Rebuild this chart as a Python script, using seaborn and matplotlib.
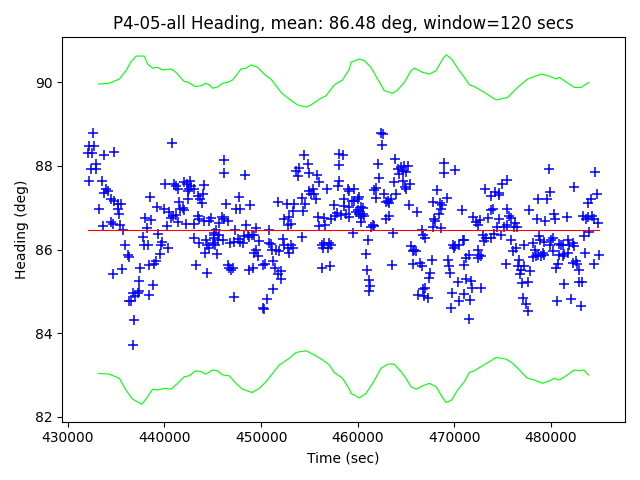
import numpy as np
import seaborn as sns
import matplotlib
matplotlib.use("Agg")
import matplotlib.pyplot as plt

# Heading samples (time in sec, heading in deg)
time_sec = [
    432570, 432230, 432740, 432050, 432500, 433780, 434810, 432400, 432920, 432920,
    432150, 433540, 433950, 433780, 434120, 434470, 434810, 435150, 435510, 435150,
    435330, 433190, 433600, 434470, 434640, 435400, 435670, 435950, 436190, 436290,
    434640, 435570, 437500, 437400, 436710, 437220, 437400, 436540, 436990, 436370,
    438360, 438850, 436880, 436780, 440060, 438540, 439190, 439990, 440430, 438020,
    438610, 438200, 439290, 437740, 437920, 438260, 439750, 439650, 440330, 439570,
    439130, 438950, 438440, 440300, 440740, 446200, 446130, 448370, 440950, 441360,
    441200, 441990, 442340, 442680, 442750, 442580, 443020, 442470, 444130, 443950,
    443430, 443710, 442400, 441540, 441880, 441640, 442060, 443850, 446370, 447750,
    447410, 447850, 448890, 440850, 441200, 440680, 441440, 442230, 443020, 443430,
    443610, 444820, 444570, 444060, 445920, 445680, 446540, 446130, 445340, 445160,
    448440, 447310, 443090, 443610, 444300, 444410, 444650, 444990, 445160, 445160,
    445500, 445240, 445680, 446020, 445440, 444200, 446820, 447230, 447570, 447850,
    448090, 448270, 448610, 449020, 448790, 443270, 444410, 446610, 446720, 446890,
    447060, 448790, 449130, 447160, 449230,
    454480, 458030, 454820, 453960, 453620, 453780, 454920, 455790, 455960, 458030,
    454920, 455170, 455340, 455510, 456790, 457920, 454240, 454580, 455690, 451710,
    452650, 453440, 453340, 454300, 457580, 452930, 452410, 453100, 452750, 455850,
    456550, 457240, 457690, 457820, 456650, 456030, 449480, 450860, 449300, 449820,
    450780, 451030, 451130, 451550, 452230, 452410, 452750, 452930, 453100, 453270,
    451890, 454240, 456310, 456550, 457070, 457240, 456890, 456440, 449480, 449640,
    450160, 450440, 451270, 451480, 452070, 452070, 451710, 456310, 457170, 451200,
    450620, 450160, 450340,
    462420, 462580, 462520, 458440, 458100, 462060, 463900, 464130, 464490, 464830,
    465170, 464650, 464310, 465000, 463720, 464650, 462170, 458960, 459140, 459650,
    461900, 461720, 461900, 465000, 465450, 464900, 462690, 463970, 458620, 459370,
    459650, 460170, 459990, 462930, 463100, 463280, 463450, 465350, 458620, 459140,
    460350, 460510, 459990, 459830, 466140, 458280, 458790, 459140, 460170, 460350,
    460510, 460690, 460350, 463280, 462930, 461550, 461380, 461720, 459480, 463620,
    466620, 466720, 461030, 465520, 465690, 465860, 466040, 460860, 463510, 465690,
    466480, 466620, 460930, 461130, 461310, 461210, 466280, 466720, 466830,
    468900, 468970, 470110, 468170, 469210, 467830, 468520, 468730, 468630, 468450,
    467930, 468040, 467760, 468630, 470760, 467000, 473210, 473800, 474250, 474660,
    474590, 474940, 475420, 473800, 474040, 473450, 474660, 475420, 471900, 472250,
    472410, 472660, 474380, 475180, 475420, 474840, 474140, 473800, 473280, 473000,
    473110, 469830, 470110, 470000, 470520, 470860, 471040, 471560, 471210, 471040,
    472410, 472590, 472770, 472410, 467650, 469310, 469490, 469590, 467490, 467420,
    467000, 467240, 470340, 471210, 471730, 471830, 472770, 469720, 471040, 470450,
    471630, 469660, 471560, 475350,
    479760, 484600, 482420, 479910, 478700, 479560, 484770, 484150, 483800, 477770,
    475700, 475870, 480280, 480460, 478520, 479420, 481630, 483280, 483800, 484210,
    484490, 483630, 484830, 476290, 476490, 476210, 483980, 483390, 475870, 478800,
    478900, 479250, 480010, 480180, 479940, 480870, 481050, 481210, 481730, 482250,
    482350, 481910, 477250, 478110, 478390, 476390, 476040, 478110, 478460, 478620,
    479140, 479320, 478980, 480180, 480870, 481210, 481390, 481730, 483560, 485010,
    476730, 476550, 477180, 476910, 476830, 477870, 480690, 480530, 482250, 482600,
    482700, 482940, 484420, 476970, 477590, 481390, 482940, 483180, 477070, 477420,
    477660, 480630, 482080, 483120,
]
heading_deg = [
    88.80, 88.48, 88.48, 88.30, 88.30, 88.26, 88.34, 87.94, 87.94, 88.04,
    87.63, 87.63, 87.44, 87.36, 87.40, 87.22, 87.16, 87.08, 87.08, 86.98,
    86.84, 86.98, 86.56, 86.65, 86.62, 86.58, 86.46, 86.10, 85.88, 85.82,
    85.42, 85.54, 85.57, 85.26, 84.96, 84.96, 85.00, 84.76, 84.88, 84.76,
    84.92, 85.16, 84.32, 83.71, 87.58, 87.26, 87.02, 86.96, 86.89, 86.76,
    86.70, 86.52, 86.38, 86.29, 86.10, 86.10, 86.17, 86.12, 86.04, 85.90,
    85.72, 85.66, 85.62, 86.56, 88.56, 88.14, 87.84, 87.78, 87.58, 87.46,
    87.52, 87.61, 87.56, 87.64, 87.52, 87.44, 87.46, 87.40, 87.54, 87.32,
    87.28, 87.20, 87.22, 87.13, 87.00, 86.96, 86.94, 87.12, 87.10, 87.26,
    86.98, 86.98, 87.06, 86.80, 86.82, 86.76, 86.65, 86.62, 86.62, 86.80,
    86.72, 86.76, 86.68, 86.68, 86.77, 86.64, 86.68, 86.74, 86.48, 86.36,
    86.60, 86.48, 86.28, 86.16, 86.22, 86.10, 86.04, 86.16, 86.28, 86.40,
    86.24, 86.10, 86.36, 86.24, 85.90, 85.93, 86.16, 86.17, 86.26, 86.17,
    86.16, 86.32, 86.36, 86.36, 86.30, 85.62, 85.44, 85.64, 85.57, 85.52,
    85.56, 85.52, 85.56, 84.86, 85.93,
    88.26, 88.28, 88.04, 87.96, 87.88, 87.76, 87.84, 87.78, 87.61, 87.64,
    87.40, 87.34, 87.44, 87.32, 87.44, 87.52, 87.24, 87.10, 87.20, 87.13,
    87.10, 87.10, 86.92, 86.92, 87.06, 86.78, 86.72, 86.62, 86.58, 86.78,
    86.76, 86.74, 86.80, 86.88, 86.60, 86.56, 86.52, 86.46, 86.36, 86.20,
    86.16, 86.14, 85.98, 85.98, 86.26, 86.10, 86.04, 85.93, 86.12, 86.05,
    85.96, 86.29, 86.10, 86.16, 86.16, 86.10, 86.04, 86.04, 85.98, 85.84,
    85.64, 85.66, 85.72, 85.57, 85.48, 85.30, 85.42, 85.57, 85.60, 85.06,
    84.82, 84.60, 84.58,
    88.80, 88.76, 88.50, 88.26, 88.02, 88.04, 88.16, 87.92, 87.97, 88.00,
    88.00, 87.88, 87.82, 87.85, 87.61, 87.64, 87.72, 87.44, 87.40, 87.44,
    87.48, 87.42, 87.24, 87.46, 87.56, 87.50, 87.34, 87.32, 87.20, 87.16,
    87.16, 87.26, 87.20, 87.14, 87.16, 87.12, 87.20, 87.06, 87.04, 87.02,
    87.02, 87.00, 86.94, 86.89, 86.89, 86.82, 86.84, 86.78, 86.84, 86.80,
    86.86, 86.80, 86.65, 86.80, 86.74, 86.58, 86.54, 86.56, 86.40, 86.40,
    86.46, 86.36, 86.24, 86.08, 85.96, 85.98, 85.96, 85.90, 85.64, 85.66,
    85.68, 85.60, 85.52, 85.28, 85.14, 85.02, 84.92, 85.06, 84.88,
    88.06, 87.84, 87.90, 87.42, 87.24, 87.13, 87.12, 87.06, 86.96, 86.84,
    86.72, 86.68, 86.54, 86.52, 86.94, 86.28, 87.46, 87.28, 87.37, 87.36,
    87.30, 87.56, 87.66, 86.94, 86.98, 86.76, 86.72, 86.96, 86.77, 86.65,
    86.58, 86.70, 86.54, 86.54, 86.58, 86.34, 86.38, 86.28, 86.28, 86.36,
    86.20, 86.10, 86.08, 86.04, 86.12, 86.22, 86.24, 85.88, 85.81, 85.62,
    86.00, 85.88, 85.84, 85.80, 85.76, 85.76, 85.60, 85.44, 85.45, 85.32,
    85.09, 84.84, 85.22, 85.30, 85.24, 85.08, 85.08, 84.97, 84.94, 84.78,
    84.80, 84.60, 84.34, 85.66,
    87.94, 87.85, 87.50, 87.37, 87.22, 87.20, 87.34, 87.22, 87.12, 86.94,
    86.80, 86.76, 86.84, 86.74, 86.74, 86.68, 86.78, 86.80, 86.78, 86.80,
    86.72, 86.72, 86.64, 86.64, 86.54, 86.54, 86.41, 86.32, 86.24, 86.32,
    86.24, 86.17, 86.24, 86.28, 86.12, 86.14, 86.10, 86.12, 86.22, 86.16,
    86.08, 86.12, 86.10, 86.16, 86.00, 86.04, 85.96, 85.82, 85.84, 85.88,
    85.92, 85.88, 85.84, 85.96, 85.88, 85.84, 85.90, 85.93, 85.92, 85.88,
    85.74, 85.60, 85.60, 85.52, 85.42, 85.48, 85.66, 85.56, 85.68, 85.72,
    85.66, 85.52, 85.66, 85.20, 85.22, 85.18, 85.22, 85.22, 84.84, 84.70,
    84.52, 84.78, 84.82, 84.66,
]
mean_heading = 86.48
window_secs = 120

# Rolling band (upper / lower limits)
upper_time = [
    433190, 434300, 435330, 436020, 436540, 437090, 437920, 438260, 438780, 439290,
    439810, 440680, 441200, 442060, 442400, 443200, 443790, 444300, 444650, 444990,
    445500, 446020, 446540, 447060, 447930, 448440, 448960, 449640, 450510, 451030,
    452070, 452930, 453780, 454650, 455170, 456030, 456720, 457580, 458440, 459140,
    459310, 460170, 460690, 461380, 462060, 462760, 463620, 464130, 464830, 465520,
    465860, 466720, 467420, 468110, 468790, 469180, 469720, 470520, 471040, 471560,
    472070, 473110, 474320, 475520, 476550, 477590, 478280, 478980, 479660, 480180,
    480530, 480870, 481560, 482420, 483120, 483900,
]
upper_deg = [
    89.96, 89.98, 90.08, 90.28, 90.49, 90.63, 90.63, 90.44, 90.34, 90.36,
    90.30, 90.32, 90.24, 90.02, 90.01, 89.90, 89.92, 89.98, 89.94, 89.86,
    89.89, 89.98, 90.00, 90.06, 90.32, 90.34, 90.42, 90.36, 90.16, 90.08,
    89.76, 89.60, 89.46, 89.41, 89.46, 89.60, 89.68, 89.94, 90.06, 90.32,
    90.48, 90.56, 90.52, 90.36, 90.08, 89.80, 89.74, 89.82, 90.00, 90.28,
    90.34, 90.24, 90.20, 90.28, 90.56, 90.66, 90.56, 90.28, 90.12, 89.94,
    89.90, 89.76, 89.58, 89.64, 89.88, 90.08, 90.14, 90.20, 90.16, 90.12,
    90.08, 90.12, 90.01, 89.88, 89.88, 90.00,
]
lower_time = [
    433190, 434300, 435330, 436020, 436710, 437680, 438260, 438780, 439290, 439990,
    440680, 441360, 442060, 442580, 443200, 443790, 444300, 444990, 445500, 446020,
    446720, 447410, 448090, 449060, 449820, 450510, 451890, 452930, 453620, 454650,
    455510, 456370, 457070, 457580, 458440, 459140, 459310, 460170, 460860, 461550,
    462420, 463100, 463790, 464490, 465000, 465520, 466040, 466720, 467420, 468110,
    468630, 469140, 469720, 470340, 471040, 471560, 472070, 472770, 473630, 474320,
    475350, 476040, 476730, 477530, 478280, 479140, 479840, 480350, 480870, 481560,
    482420, 482940, 483390, 483900,
]
lower_deg = [
    83.04, 83.02, 82.92, 82.64, 82.42, 82.30, 82.48, 82.66, 82.64, 82.68,
    82.66, 82.80, 82.96, 82.98, 83.10, 83.08, 83.02, 83.12, 83.10, 83.00,
    82.98, 82.80, 82.66, 82.58, 82.68, 82.84, 83.24, 83.40, 83.54, 83.58,
    83.48, 83.36, 83.24, 83.06, 82.92, 82.66, 82.56, 82.45, 82.56, 82.80,
    83.16, 83.26, 83.26, 83.08, 82.92, 82.72, 82.66, 82.74, 82.80, 82.72,
    82.52, 82.34, 82.40, 82.64, 82.84, 83.06, 83.10, 83.20, 83.32, 83.42,
    83.38, 83.28, 83.12, 82.93, 82.88, 82.80, 82.86, 82.92, 82.88, 82.98,
    83.12, 83.10, 83.12, 83.00,
]

fig, ax = plt.subplots(figsize=(6.4, 4.8), dpi=100)

# samples
sns.scatterplot(x=time_sec, y=heading_deg, marker='+', color='blue',
                s=44, linewidth=1.1, ax=ax)

# mean line over the whole span
t_span = [min(time_sec), max(time_sec)]
sns.lineplot(x=t_span, y=[mean_heading, mean_heading], color='red',
             linewidth=0.8, ax=ax)

# window limits
sns.lineplot(x=upper_time, y=upper_deg, color='lime', linewidth=0.8,
             sort=False, ax=ax)
sns.lineplot(x=lower_time, y=lower_deg, color='lime', linewidth=0.8,
             sort=False, ax=ax)

ax.set_title('P4-05-all Heading, mean: %.2f deg, window=%d secs'
             % (mean_heading, window_secs))
ax.set_xlabel('Time (sec)')
ax.set_ylabel('Heading (deg)')

fig.tight_layout()
fig.savefig('out.png', dpi=100)
